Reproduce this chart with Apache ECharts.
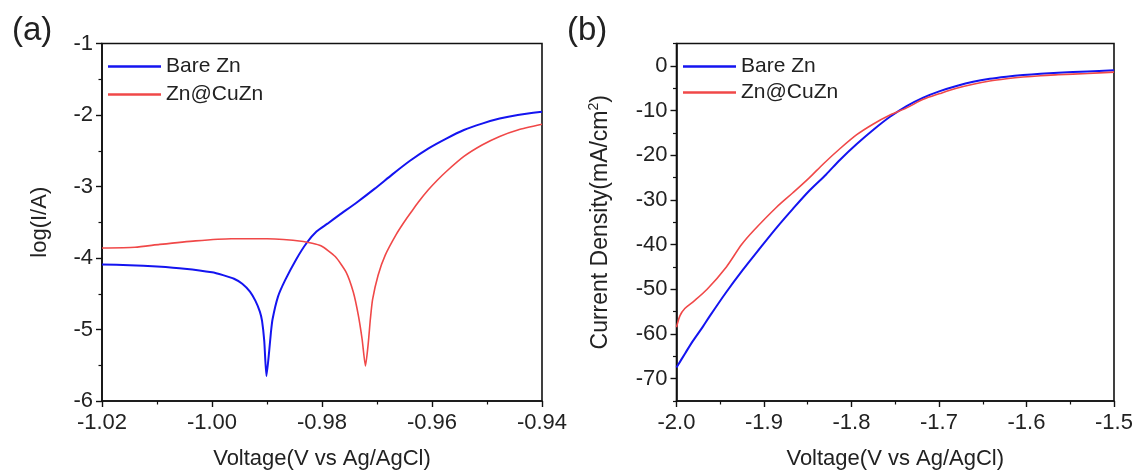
<!DOCTYPE html>
<html><head><meta charset="utf-8">
<script src="https://cdn.jsdelivr.net/npm/echarts@6/dist/echarts.min.js"></script>
<style>html,body{margin:0;padding:0;background:#fff}#c{width:1142px;height:475px}</style>
</head><body><div id="c"></div>
<script>
// Panel (a): Tafel plot
const aBareV   = [-1.02, -1.015, -1.01, -1.005, -1.0, -0.998, -0.996, -0.9945, -0.9931, -0.9921, -0.9913, -0.9909, -0.9905, -0.9901, -0.9896, -0.9893, -0.989, -0.988, -0.9867, -0.9847, -0.9828, -0.981, -0.979, -0.9769, -0.9738, -0.9704, -0.9672, -0.964, -0.9607, -0.9574, -0.9542, -0.9509, -0.9477, -0.9444, -0.94];
const aBareLog = [-4.09, -4.10, -4.12, -4.15, -4.20, -4.24, -4.29, -4.36, -4.47, -4.60, -4.75, -4.88, -5.16, -5.65, -5.30, -5.05, -4.86, -4.54, -4.31, -4.02, -3.79, -3.63, -3.52, -3.40, -3.23, -3.03, -2.83, -2.64, -2.47, -2.33, -2.21, -2.12, -2.05, -2.00, -1.955];
const aZnV     = [-1.02, -1.014, -1.0095, -1.003, -0.9965, -0.99, -0.9834, -0.9802, -0.9776, -0.9756, -0.9743, -0.9734, -0.9727, -0.9721, -0.9716, -0.9712, -0.9708, -0.9698, -0.9685, -0.9665, -0.965, -0.9639, -0.9625, -0.9607, -0.959, -0.9574, -0.9542, -0.9509, -0.9477, -0.9444, -0.94];
const aZnLog   = [-3.86, -3.85, -3.81, -3.76, -3.73, -3.73, -3.77, -3.83, -3.98, -4.20, -4.48, -4.80, -5.14, -5.51, -5.20, -4.85, -4.58, -4.24, -3.96, -3.67, -3.49, -3.37, -3.22, -3.05, -2.91, -2.79, -2.58, -2.42, -2.30, -2.21, -2.13];
// Panel (b): LSV
const bBareV = [-2.0, -1.99, -1.981, -1.97, -1.962, -1.943, -1.924, -1.905, -1.886, -1.867, -1.848, -1.829, -1.813, -1.794, -1.775, -1.756, -1.737, -1.718, -1.699, -1.68, -1.661, -1.642, -1.623, -1.604, -1.584, -1.564, -1.53, -1.5];
const bBareJ = [-67.5, -64.3, -61.5, -58.4, -56.0, -50.6, -45.6, -40.9, -36.3, -32.0, -27.9, -24.3, -21.0, -17.5, -14.3, -11.4, -9.0, -7.1, -5.65, -4.5, -3.56, -2.9, -2.44, -2.07, -1.77, -1.55, -1.25, -1.0];
const bZnV = [-2.0, -1.996, -1.9905, -1.981, -1.965, -1.943, -1.9256, -1.9115, -1.886, -1.867, -1.848, -1.832, -1.813, -1.794, -1.775, -1.756, -1.737, -1.718, -1.699, -1.68, -1.661, -1.642, -1.623, -1.604, -1.584, -1.564, -1.53, -1.5];
const bZnJ = [-58.5, -55.9, -54.3, -52.8, -50.0, -45.0, -40.0, -36.8, -31.7, -28.4, -25.0, -21.9, -18.5, -15.4, -13.0, -11.0, -9.4, -7.5, -6.2, -5.0, -4.1, -3.4, -2.9, -2.5, -2.2, -2.0, -1.7, -1.4];
const seriesNames = ['Bare Zn', 'Zn@CuZn'];
const bYLabels = [0, -10, -20, -30, -40, -50, -60, -70];
const bYMinor = [-75, -65, -55, -45, -35, -25, -15, -5, 5];

const zip = (xs, ys) => xs.map((x, i) => [x, ys[i]]);
const FONT = "'Liberation Sans', Arial, sans-serif";
const BLUE = '#1414f0', RED = '#f04848', INK = '#222';

const chart = echarts.init(document.getElementById('c'), null, {renderer: 'canvas'});
const gridA = {left: 102, top: 43.5, width: 440, height: 358, show: true, borderColor: '#111', borderWidth: 1.6, backgroundColor: 'transparent'};
const gridB = {left: 676.5, top: 43.5, width: 437.5, height: 358, show: true, borderColor: '#111', borderWidth: 1.6, backgroundColor: 'transparent'};

const axisLine = {show: true, onZero: false, lineStyle: {color: '#111', width: 1.6}};
const tick = {show: true, inside: false, length: 6, lineStyle: {color: '#111', width: 1.4}};
const minor = {show: true, splitNumber: 2, length: 3.5, lineStyle: {color: '#111', width: 1.2}};
const lbl = {color: INK, fontSize: 22, fontFamily: FONT};
const titleFont = {fontSize: 22, color: INK, fontFamily: FONT};

const option = {
  backgroundColor: '#fff',
  animation: false,
  title: [
    {text: '(a)', left: 7, top: 9, textStyle: {fontSize: 33, fontWeight: 'normal', color: INK, fontFamily: FONT}},
    {text: '(b)', left: 562, top: 9, textStyle: {fontSize: 33, fontWeight: 'normal', color: INK, fontFamily: FONT}}
  ],
  legend: [
    {data: seriesNames, orient: 'vertical', left: 103, top: 51, icon: 'rect', itemWidth: 53, itemHeight: 2.5, itemGap: 7,
     textStyle: {fontSize: 21, color: INK, fontFamily: FONT}, selectedMode: false},
    {data: seriesNames, orient: 'vertical', left: 678, top: 51, icon: 'rect', itemWidth: 53, itemHeight: 2.5, itemGap: 5,
     textStyle: {fontSize: 21, color: INK, fontFamily: FONT}, selectedMode: false}
  ],
  grid: [gridA, gridB],
  xAxis: [
    {type: 'value', gridIndex: 0, min: -1.02, max: -0.94, interval: 0.02,
     axisLine, axisTick: tick, minorTick: minor, splitLine: {show: false},
     axisLabel: Object.assign({margin: 11, formatter: v => v.toFixed(2)}, lbl),
     name: 'Voltage(V vs Ag/AgCl)', nameLocation: 'middle', nameGap: 47, nameTextStyle: titleFont},
    {type: 'value', gridIndex: 1, min: -2.0, max: -1.5, interval: 0.1,
     axisLine, axisTick: tick, minorTick: minor, splitLine: {show: false},
     axisLabel: Object.assign({margin: 11, formatter: v => v.toFixed(1)}, lbl),
     name: 'Voltage(V vs Ag/AgCl)', nameLocation: 'middle', nameGap: 47, nameTextStyle: titleFont}
  ],
  yAxis: [
    {type: 'value', gridIndex: 0, min: -6, max: -1, interval: 1,
     axisLine, axisTick: tick, minorTick: minor, splitLine: {show: false},
     axisLabel: Object.assign({margin: 9}, lbl),
     name: 'log(I/A)', nameLocation: 'middle', nameGap: 51, nameRotate: 90, nameTextStyle: titleFont},
    {type: 'value', gridIndex: 1, min: -75, max: 5, position: 'left',
     axisLine, axisTick: Object.assign({customValues: bYLabels}, tick), splitLine: {show: false},
     axisLabel: Object.assign({margin: 9, customValues: bYLabels}, lbl),
     name: '{a|Current Density(mA/cm}{s|2}{a|)}', nameLocation: 'middle', nameGap: 63, nameRotate: 90,
     nameTextStyle: {rich: {
       a: {fontSize: 23, color: INK, fontFamily: FONT},
       s: {fontSize: 14, color: INK, fontFamily: FONT, verticalAlign: 'top', padding: [0, 0, 12, 0]}
     }}},
    {type: 'value', gridIndex: 1, min: -75, max: 5, position: 'left', offset: 0,
     axisLine: {show: false, onZero: false}, axisTick: {show: true, length: 3.5, customValues: bYMinor, lineStyle: {color: '#111', width: 1.2}},
     axisLabel: {show: false}, splitLine: {show: false}}
  ],
  series: [
    {name: seriesNames[0], type: 'line', xAxisIndex: 0, yAxisIndex: 0, data: zip(aBareV, aBareLog),
     showSymbol: false, symbol: 'none', smooth: 0.2, lineStyle: {color: BLUE, width: 2}, itemStyle: {color: BLUE}},
    {name: seriesNames[1], type: 'line', xAxisIndex: 0, yAxisIndex: 0, data: zip(aZnV, aZnLog),
     showSymbol: false, symbol: 'none', smooth: 0.2, lineStyle: {color: RED, width: 1.6}, itemStyle: {color: RED}},
    {name: seriesNames[0], type: 'line', xAxisIndex: 1, yAxisIndex: 1, data: zip(bBareV, bBareJ),
     showSymbol: false, symbol: 'none', smooth: 0.3, lineStyle: {color: BLUE, width: 2}, itemStyle: {color: BLUE}},
    {name: seriesNames[1], type: 'line', xAxisIndex: 1, yAxisIndex: 1, data: zip(bZnV, bZnJ),
     showSymbol: false, symbol: 'none', smooth: 0.3, lineStyle: {color: RED, width: 1.6}, itemStyle: {color: RED}}
  ]
};
chart.setOption(option);
</script></body></html>
